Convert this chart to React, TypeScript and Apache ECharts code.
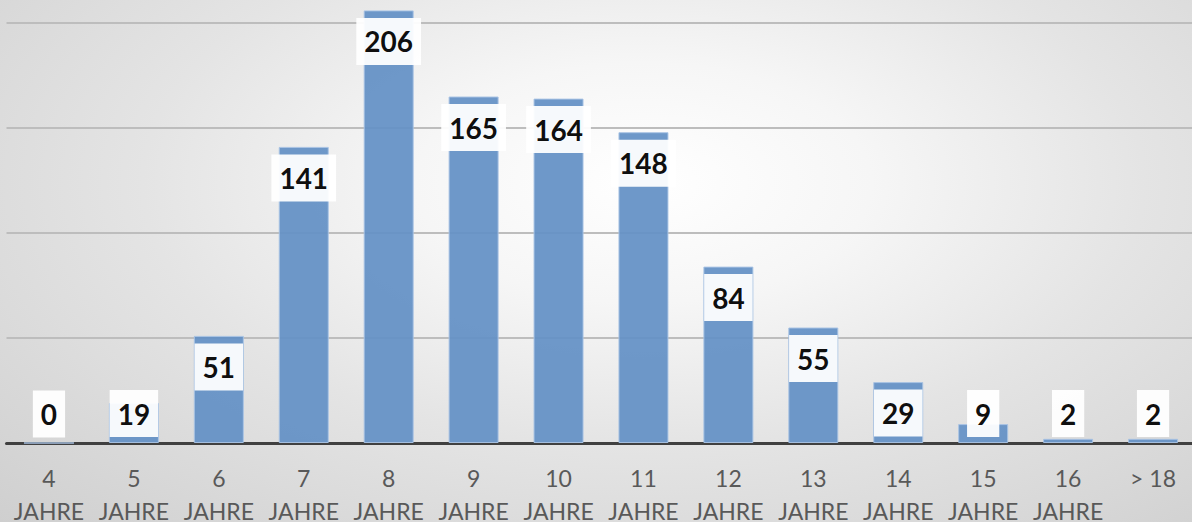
import React, { useEffect, useRef } from "react";
import * as echarts from "echarts";

const categories = [
  "4\nJAHRE", "5\nJAHRE", "6\nJAHRE", "7\nJAHRE", "8\nJAHRE", "9\nJAHRE", "10\nJAHRE",
  "11\nJAHRE", "12\nJAHRE", "13\nJAHRE", "14\nJAHRE", "15\nJAHRE", "16\nJAHRE", "> 18",
];
const counts = [0, 19, 51, 141, 206, 165, 164, 148, 84, 55, 29, 9, 2, 2];

const yMin = 0;
const yMax = 210;
const yInterval = 50;

export default function App() {
  const ref = useRef<HTMLDivElement>(null);
  useEffect(() => {
    if (!ref.current) return;
    const chart = echarts.init(ref.current, null, { renderer: "svg" });
    const labelBase = {
      show: true,
      color: "#000",
      fontFamily: "Lato",
      fontWeight: "bold",
      fontSize: 28,
      lineHeight: 28,
      backgroundColor: "#ffffff",
      padding: [9.5, 8],
    };
    chart.setOption({
      animation: false,
      grid: {
        left: 6.5,
        width: 1189,
        top: 2,
        bottom: 79,
        containLabel: false,
        outerBoundsMode: "none",
      },
      xAxis: {
        type: "category",
        data: categories,
        axisLine: { show: true, lineStyle: { color: "#404040", width: 3 } },
        axisTick: { show: false },
        axisLabel: {
          interval: 0,
          color: "#595959",
          fontFamily: "Lato",
          fontSize: 23,
          lineHeight: 32.5,
          margin: 19,
        },
      },
      yAxis: {
        type: "value",
        min: yMin,
        max: yMax,
        interval: yInterval,
        axisLabel: { show: false },
        axisLine: { show: false },
        axisTick: { show: false },
        splitLine: {
          show: true,
          showMaxLine: false,
          lineStyle: { color: "#bdbdbd", width: 2 },
        },
      },
      series: [
        {
          type: "bar",
          barWidth: 50,
          data: counts.map((v) => ({
            value: v,
            label:
              v < 29
                ? { ...labelBase, position: "insideBottom", distance: 6 }
                : { ...labelBase, position: "insideTop", distance: 7.5 },
          })),
          itemStyle: {
            color: "#6592c6",
            opacity: 0.94,
            borderColor: "#a9c3e4",
            borderWidth: 1,
          },
          label: labelBase,
          labelLayout: { hideOverlap: false },
        },
      ],
    });
    return () => chart.dispose();
  }, []);
  return (
    <div
      ref={ref}
      style={{
        position: "absolute",
        left: 0,
        top: 0,
        width: 1192,
        height: 522,
        background:
          "radial-gradient(ellipse at 54% 35%, #ffffff 0%, #f6f6f6 25%, #e4e4e4 55%, #cfcfcf 100%)",
      }}
    />
  );
}
